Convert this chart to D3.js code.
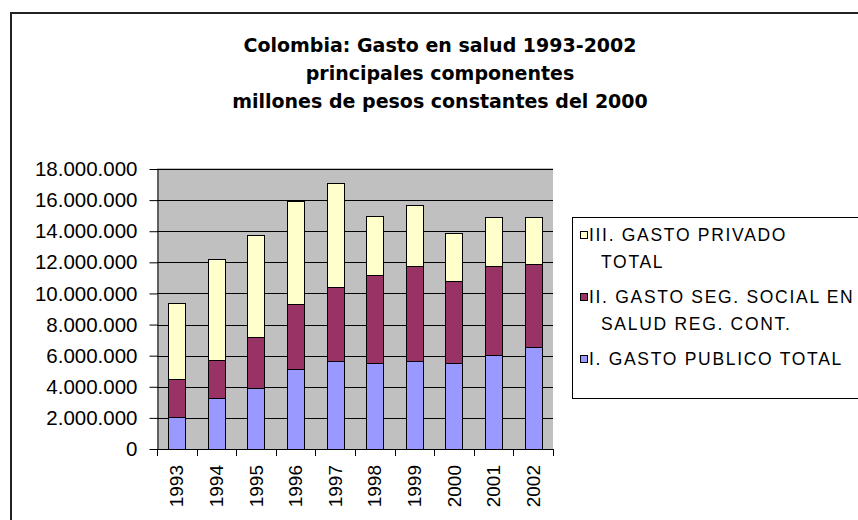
<!DOCTYPE html>
<html>
<head>
<meta charset="utf-8">
<script src="https://cdn.jsdelivr.net/npm/d3@7/dist/d3.min.js"></script>
<style>
  body { margin: 0; background: #fff; }
  svg { display: block; }
</style>
</head>
<body>
<svg id="chart" width="858" height="520"></svg>
<script>
// Gasto en salud, Colombia 1993-2002 (millones de pesos constantes del 2000)
const years = ["1993", "1994", "1995", "1996", "1997", "1998", "1999", "2000", "2001", "2002"];
const gastoPublico   = [2040000, 3280000, 3920000, 5160000, 5630000, 5500000, 5630000, 5500000, 6060000, 6530000];
const gastoSegSocial = [2460000, 2440000, 3260000, 4140000, 4800000, 5680000, 6130000, 5280000, 5700000, 5360000];
const gastoPrivado   = [4900000, 6490000, 6590000, 6660000, 6690000, 3820000, 3900000, 3120000, 3130000, 3000000];
const yTicks = [0, 2000000, 4000000, 6000000, 8000000, 10000000, 12000000, 14000000, 16000000, 18000000];

const titleLines = [
  "Colombia: Gasto en salud 1993-2002",
  "principales componentes",
  "millones de pesos constantes del 2000"
];

// series from bottom of the stack to top
const series = [
  { key: "publico",   values: gastoPublico,   color: "#9999FF", label: ["I. GASTO PUBLICO TOTAL"] },
  { key: "segSocial", values: gastoSegSocial, color: "#993366", label: ["II. GASTO SEG. SOCIAL EN", "SALUD REG. CONT."] },
  { key: "privado",   values: gastoPrivado,   color: "#FFFFCC", label: ["III. GASTO PRIVADO", "TOTAL"] }
];

const rows = years.map((yr, i) => {
  const r = { year: yr };
  series.forEach(s => { r[s.key] = s.values[i]; });
  return r;
});

const svg = d3.select("#chart");
const plot = { left: 157, right: 553, top: 169, bottom: 449 };

const fmt = d3.formatLocale({ decimal: ",", thousands: ".", grouping: [3], currency: ["$", ""] }).format(",d");

const x = d3.scaleBand()
  .domain(years)
  .range([plot.left, plot.right])
  .paddingInner(0.57)
  .paddingOuter(0.285);

const y = d3.scaleLinear()
  .domain([0, d3.max(yTicks)])
  .range([plot.bottom, plot.top]);

// outer chart frame
svg.append("rect")
  .attr("x", 11).attr("y", 13)
  .attr("width", 900).attr("height", 600)
  .attr("fill", "none")
  .attr("stroke", "#222")
  .attr("stroke-width", 2);

// title
svg.append("g")
  .selectAll("text")
  .data(titleLines)
  .join("text")
  .attr("x", 440)
  .attr("y", (d, i) => 52 + i * 28)
  .attr("text-anchor", "middle")
  .attr("font-family", "'DejaVu Sans', sans-serif")
  .attr("font-weight", "bold")
  .attr("font-size", 19)
  .attr("fill", "#000")
  .text(d => d);

// plot background
svg.append("rect")
  .attr("x", plot.left).attr("y", plot.top - 1)
  .attr("width", plot.right - plot.left)
  .attr("height", plot.bottom - plot.top + 1)
  .attr("fill", "#C0C0C0");

// horizontal gridlines
svg.append("g")
  .selectAll("line")
  .data(yTicks.filter(d => d > 0))
  .join("line")
  .attr("x1", plot.left).attr("x2", plot.right)
  .attr("y1", d => Math.round(y(d)) + 0.5)
  .attr("y2", d => Math.round(y(d)) + 0.5)
  .attr("stroke", "#000")
  .attr("stroke-width", 1);

// stacked bars
const stacked = d3.stack().keys(series.map(s => s.key))(rows);
svg.append("g")
  .selectAll("g")
  .data(stacked)
  .join("g")
  .attr("fill", (d, i) => series[i].color)
  .selectAll("rect")
  .data(d => d)
  .join("rect")
  .attr("x", d => Math.round(x(d.data.year)) + 0.5)
  .attr("y", d => Math.round(y(d[1])) + 0.5)
  .attr("width", Math.round(x.bandwidth()))
  .attr("height", d => Math.round(y(d[0])) - Math.round(y(d[1])))
  .attr("stroke", "#000")
  .attr("stroke-width", 1);

// y axis
const yAxis = svg.append("g")
  .attr("transform", `translate(${plot.left + 0.5},0)`)
  .call(d3.axisLeft(y).tickValues(yTicks).tickFormat(fmt).tickSize(8).tickSizeOuter(0).tickPadding(12));
yAxis.select(".domain").attr("stroke", "#000");
yAxis.selectAll(".tick line").attr("stroke", "#000");
yAxis.selectAll(".tick text")
  .attr("font-family", "'Liberation Sans', Arial, sans-serif")
  .attr("font-size", 20.5)
  .attr("fill", "#000");

// x axis line and category separators
svg.append("line")
  .attr("x1", plot.left).attr("x2", plot.right + 1)
  .attr("y1", plot.bottom + 0.5).attr("y2", plot.bottom + 0.5)
  .attr("stroke", "#000");
const bounds = years.map(yr => x(yr) - x.step() * x.paddingInner() / 2);
bounds.push(plot.right);
svg.append("g")
  .selectAll("line")
  .data(bounds)
  .join("line")
  .attr("x1", d => Math.round(d) + 0.5).attr("x2", d => Math.round(d) + 0.5)
  .attr("y1", plot.bottom).attr("y2", plot.bottom + 7)
  .attr("stroke", "#000");

// rotated year labels
const xAxis = svg.append("g")
  .attr("transform", `translate(0,${plot.bottom})`)
  .call(d3.axisBottom(x).tickSize(0).tickPadding(0));
xAxis.select(".domain").remove();
xAxis.selectAll(".tick text")
  .attr("transform", "rotate(-90)")
  .attr("text-anchor", "end")
  .attr("x", -16)
  .attr("y", 0)
  .attr("dy", "0.35em")
  .attr("font-family", "'Liberation Sans', Arial, sans-serif")
  .attr("font-size", 19)
  .attr("fill", "#000");

// legend
const legend = svg.append("g");
legend.append("rect")
  .attr("x", 572.5).attr("y", 217.5)
  .attr("width", 400).attr("height", 181)
  .attr("fill", "#fff")
  .attr("stroke", "#000");

const legendItems = series.slice().reverse();
const entry = legend.selectAll("g.entry")
  .data(legendItems)
  .join("g")
  .attr("class", "entry")
  .attr("transform", (d, i) => `translate(0,${241 + i * 62})`);

entry.append("rect")
  .attr("x", 580.5).attr("y", -9.5)
  .attr("width", 7).attr("height", 7)
  .attr("fill", d => d.color)
  .attr("stroke", "#000");

entry.selectAll("text")
  .data(d => d.label)
  .join("text")
  .attr("x", (d, i) => i === 0 ? 589 : 601)
  .attr("y", (d, i) => i * 26.5)
  .attr("font-family", "'Liberation Sans', Arial, sans-serif")
  .attr("font-size", 17.5)
  .attr("letter-spacing", 1.7)
  .attr("fill", "#000")
  .text(d => d);
</script>
</body>
</html>
